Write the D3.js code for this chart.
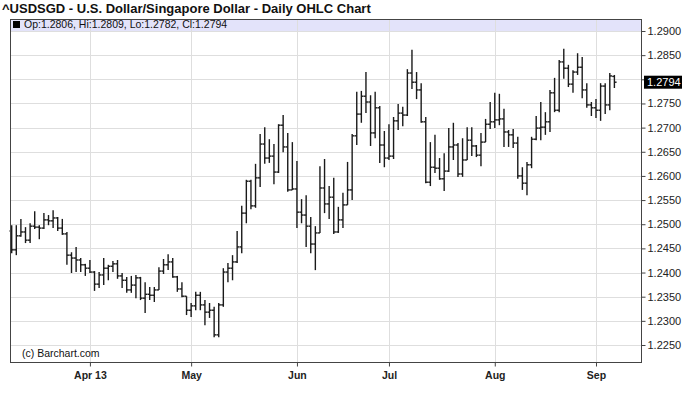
<!DOCTYPE html>
<html><head><meta charset="utf-8">
<script src="https://cdn.jsdelivr.net/npm/d3@7/dist/d3.min.js"></script>
<style>
html,body{margin:0;padding:0;background:#fff;}
svg{display:block;font-family:"Liberation Sans",Arial,sans-serif;}
</style></head><body>
<svg id="c" width="688" height="404"></svg>
<script>
// Trading days (2013), one per bar
const dates = [
"03-07","03-08","03-11","03-12","03-13","03-14","03-15","03-18","03-19","03-20","03-21","03-22","03-25","03-26","03-27","03-28","03-29",
"04-01","04-02","04-03","04-04","04-05","04-08","04-09","04-10","04-11","04-12","04-15","04-16","04-17","04-18","04-19","04-22","04-23","04-24","04-25","04-26","04-29","04-30",
"05-01","05-02","05-03","05-06","05-07","05-08","05-09","05-10","05-13","05-14","05-15","05-16","05-17","05-20","05-21","05-22","05-23","05-24","05-27","05-28","05-29","05-30","05-31",
"06-03","06-04","06-05","06-06","06-07","06-10","06-11","06-12","06-13","06-14","06-17","06-18","06-19","06-20","06-21","06-24","06-25","06-26","06-27","06-28",
"07-01","07-02","07-03","07-04","07-05","07-08","07-09","07-10","07-11","07-12","07-15","07-16","07-17","07-18","07-19","07-22","07-23","07-24","07-25","07-26","07-29","07-30","07-31",
"08-01","08-02","08-05","08-06","08-07","08-08","08-09","08-12","08-13","08-14","08-15","08-16","08-19","08-20","08-21","08-22","08-23","08-26","08-27","08-28","08-29","08-30",
"09-02","09-03","09-04","09-05","09-06"];

const open = [1.2486,1.2447,1.2476,1.2484,1.2467,1.2496,1.2494,1.2492,1.2509,1.2507,1.2513,1.2492,1.2480,1.2436,1.2430,1.2426,1.2416,
1.2409,1.2401,1.2376,1.2395,1.2409,1.2413,1.2418,1.2393,1.2384,1.2364,1.2374,1.2389,1.2347,1.2355,1.2353,1.2364,1.2403,1.2416,1.2422,1.2391,1.2366,1.2351,
1.2322,1.2331,1.2353,1.2333,1.2318,1.2322,1.2271,1.2333,1.2401,1.2409,1.2422,1.2453,1.2523,1.2589,1.2538,1.2596,1.2666,1.2637,1.2641,1.2608,1.2705,1.2660,1.2571,
1.2573,1.2525,1.2519,1.2496,1.2459,1.2482,1.2575,1.2542,1.2556,1.2484,1.2509,1.2540,1.2571,1.2683,1.2728,1.2765,1.2753,1.2689,1.2741,1.2664,
1.2637,1.2641,1.2714,1.2730,1.2726,1.2813,1.2794,1.2778,1.2712,1.2587,1.2618,1.2616,1.2594,1.2610,1.2660,1.2664,1.2604,1.2633,1.2674,1.2662,1.2643,1.2670,1.2707,
1.2712,1.2716,1.2718,1.2691,1.2685,1.2668,1.2600,1.2585,1.2623,1.2676,1.2699,1.2701,1.2712,1.2772,1.2736,1.2836,1.2823,1.2790,1.2815,1.2825,1.2778,1.2747,
1.2741,1.2736,1.2786,1.2747,1.2806];
const high = [1.2498,1.2498,1.2511,1.2494,1.2502,1.2527,1.2498,1.2523,1.2519,1.2529,1.2515,1.2511,1.2484,1.2442,1.2453,1.2430,1.2418,
1.2426,1.2403,1.2401,1.2430,1.2416,1.2424,1.2426,1.2399,1.2391,1.2393,1.2395,1.2391,1.2380,1.2370,1.2370,1.2411,1.2428,1.2438,1.2430,1.2393,1.2380,1.2351,
1.2337,1.2360,1.2360,1.2343,1.2337,1.2329,1.2337,1.2409,1.2420,1.2436,1.2486,1.2538,1.2592,1.2592,1.2625,1.2687,1.2701,1.2676,1.2666,1.2707,1.2726,1.2689,1.2670,
1.2631,1.2552,1.2560,1.2515,1.2496,1.2620,1.2635,1.2579,1.2596,1.2536,1.2565,1.2629,1.2687,1.2774,1.2776,1.2815,1.2767,1.2774,1.2745,1.2693,
1.2707,1.2722,1.2749,1.2743,1.2821,1.2861,1.2815,1.2792,1.2722,1.2670,1.2685,1.2637,1.2647,1.2699,1.2710,1.2668,1.2678,1.2701,1.2701,1.2664,1.2689,1.2718,1.2753,
1.2772,1.2770,1.2739,1.2695,1.2697,1.2681,1.2618,1.2629,1.2681,1.2724,1.2753,1.2732,1.2778,1.2803,1.2840,1.2863,1.2830,1.2819,1.2854,1.2846,1.2792,1.2753,
1.2759,1.2792,1.2792,1.2813,1.2809];
const low = [1.2440,1.2436,1.2474,1.2461,1.2461,1.2490,1.2469,1.2490,1.2498,1.2492,1.2486,1.2478,1.2416,1.2399,1.2401,1.2401,1.2393,
1.2399,1.2362,1.2368,1.2374,1.2384,1.2401,1.2387,1.2368,1.2358,1.2358,1.2347,1.2343,1.2316,1.2343,1.2339,1.2364,1.2397,1.2405,1.2389,1.2360,1.2349,1.2312,
1.2308,1.2322,1.2322,1.2291,1.2306,1.2266,1.2266,1.2329,1.2380,1.2384,1.2420,1.2440,1.2502,1.2531,1.2534,1.2577,1.2625,1.2627,1.2583,1.2606,1.2649,1.2567,1.2571,
1.2492,1.2502,1.2453,1.2440,1.2405,1.2482,1.2523,1.2511,1.2480,1.2482,1.2492,1.2540,1.2550,1.2664,1.2710,1.2730,1.2662,1.2678,1.2627,1.2618,
1.2633,1.2635,1.2695,1.2703,1.2724,1.2780,1.2759,1.2710,1.2585,1.2579,1.2606,1.2592,1.2569,1.2608,1.2633,1.2598,1.2598,1.2633,1.2641,1.2639,1.2620,1.2670,1.2697,
1.2699,1.2705,1.2660,1.2660,1.2658,1.2594,1.2571,1.2560,1.2616,1.2674,1.2674,1.2685,1.2691,1.2732,1.2732,1.2801,1.2784,1.2772,1.2809,1.2761,1.2741,1.2724,
1.2720,1.2714,1.2728,1.2736,1.2782];
const close = [1.2447,1.2476,1.2484,1.2467,1.2496,1.2494,1.2492,1.2509,1.2507,1.2513,1.2492,1.2480,1.2436,1.2430,1.2426,1.2416,1.2409,
1.2401,1.2376,1.2395,1.2409,1.2413,1.2418,1.2393,1.2384,1.2364,1.2374,1.2389,1.2347,1.2355,1.2353,1.2364,1.2403,1.2416,1.2422,1.2391,1.2366,1.2351,1.2322,
1.2331,1.2353,1.2333,1.2318,1.2322,1.2271,1.2333,1.2401,1.2409,1.2422,1.2453,1.2523,1.2589,1.2538,1.2596,1.2666,1.2637,1.2641,1.2608,1.2705,1.2660,1.2571,1.2573,
1.2525,1.2519,1.2496,1.2459,1.2482,1.2575,1.2542,1.2556,1.2484,1.2509,1.2540,1.2571,1.2683,1.2728,1.2765,1.2753,1.2689,1.2741,1.2664,1.2637,
1.2641,1.2714,1.2730,1.2726,1.2813,1.2794,1.2778,1.2712,1.2587,1.2618,1.2616,1.2594,1.2610,1.2660,1.2664,1.2604,1.2633,1.2674,1.2662,1.2643,1.2670,1.2707,1.2712,
1.2716,1.2718,1.2691,1.2685,1.2668,1.2600,1.2585,1.2623,1.2676,1.2699,1.2701,1.2712,1.2772,1.2736,1.2836,1.2823,1.2790,1.2815,1.2825,1.2778,1.2747,1.2741,
1.2736,1.2786,1.2747,1.2807,1.2794];

const monthStarts = ["04-01","05-01","06-03","07-01","08-01","09-02"];
const monthLabels = ["Apr 13","May","Jun","Jul","Aug","Sep"];
const yTicks = [1.225,1.230,1.235,1.240,1.245,1.250,1.255,1.260,1.265,1.270,1.275,1.280,1.285,1.290];
const title = "^USDSGD - U.S. Dollar/Singapore Dollar - Daily OHLC Chart";
const credit = "(c) Barchart.com";

const L = 10, R = 642, T = 19, B = 363;
const svg = d3.select("#c");
const x = d3.scaleLinear().domain([-0.37, 137.0]).range([L, R]);
const y = d3.scaleLinear().domain([1.225, 1.29]).range([345, 31]);
const n = dates.length;
const last = n - 1;

// title
svg.append("text").attr("x", 2).attr("y", 13).attr("font-size", 13).attr("font-weight", "bold")
  .attr("fill", "#111").text(title);

// header band
svg.append("rect").attr("x", L).attr("y", T).attr("width", R - L).attr("height", y(1.29) - T)
  .attr("fill", "#e3e3fa");

// grid
const g = svg.append("g");
g.selectAll("line.h").data(yTicks).join("line")
  .attr("x1", L).attr("x2", R).attr("y1", d => Math.round(y(d)) + 0.5).attr("y2", d => Math.round(y(d)) + 0.5)
  .attr("stroke", "#dedede").attr("stroke-width", 1);
const msIdx = monthStarts.map(m => dates.indexOf(m));
g.selectAll("line.v").data(msIdx).join("line")
  .attr("x1", d => Math.round(x(d)) + 0.5).attr("x2", d => Math.round(x(d)) + 0.5).attr("y1", T).attr("y2", B)
  .attr("stroke", "#dedede").attr("stroke-width", 1);

// header text
svg.append("rect").attr("x", 13).attr("y", 21).attr("width", 7).attr("height", 7).attr("fill", "#000");
svg.append("text").attr("x", 24).attr("y", 28).attr("font-size", 10.5).attr("fill", "#111")
  .text(`Op:${open[last].toFixed(4)}, Hi:${high[last].toFixed(4)}, Lo:${low[last].toFixed(4)}, Cl:${close[last].toFixed(4)}`);

// bars
const bars = svg.append("g").attr("stroke", "#1a1a1a").attr("stroke-width", 1.4);
const idx = d3.range(n);
bars.selectAll("line.hl").data(idx).join("line")
  .attr("x1", i => x(i)).attr("x2", i => x(i)).attr("y1", i => y(high[i])).attr("y2", i => y(low[i]));
bars.selectAll("line.o").data(idx).join("line")
  .attr("x1", i => x(i) - 2.2).attr("x2", i => x(i)).attr("y1", i => y(open[i])).attr("y2", i => y(open[i]));
bars.selectAll("line.c").data(idx).join("line")
  .attr("x1", i => x(i)).attr("x2", i => x(i) + 2.2).attr("y1", i => y(close[i])).attr("y2", i => y(close[i]));

// credit
svg.append("text").attr("x", 22).attr("y", 357).attr("font-size", 10.5).attr("fill", "#111").text(credit);

// border
svg.append("rect").attr("x", L + 0.5).attr("y", T + 0.5).attr("width", R - L - 1).attr("height", B - T - 1)
  .attr("fill", "none").attr("stroke", "#444").attr("stroke-width", 1);

// y axis (right); the 1.2800 label is covered by the last-price box
const ly = y(close[last]);
const ya = svg.append("g").attr("transform", `translate(${R - 0.5},0)`)
  .call(d3.axisRight(y).tickValues(yTicks).tickSize(4).tickPadding(2).tickFormat(d3.format(".4f")));
ya.select(".domain").remove();
ya.selectAll("line").attr("stroke", "#444");
ya.selectAll("text").attr("font-family", "Liberation Sans, Arial, sans-serif").attr("font-size", 11).attr("fill", "#222");
ya.selectAll(".tick").filter(d => Math.abs(y(d) - ly) < 12).select("text").remove();

// x axis
const xa = svg.append("g").attr("transform", `translate(0,${B - 0.5})`)
  .call(d3.axisBottom(x).tickValues(msIdx).tickSize(4).tickPadding(5).tickFormat((d, k) => monthLabels[k]));
xa.select(".domain").remove();
xa.selectAll("line").attr("stroke", "#444");
xa.selectAll("text").attr("font-family", "Liberation Sans, Arial, sans-serif").attr("font-size", 10.5)
  .attr("font-weight", "bold").attr("fill", "#222");

// last price label
svg.append("rect").attr("x", R + 2).attr("y", ly - 6.5).attr("width", 38).attr("height", 13).attr("fill", "#000");
svg.append("text").attr("x", R + 5).attr("y", ly + 4).attr("font-size", 11).attr("fill", "#fff").text(close[last].toFixed(4));
</script>
</body></html>
